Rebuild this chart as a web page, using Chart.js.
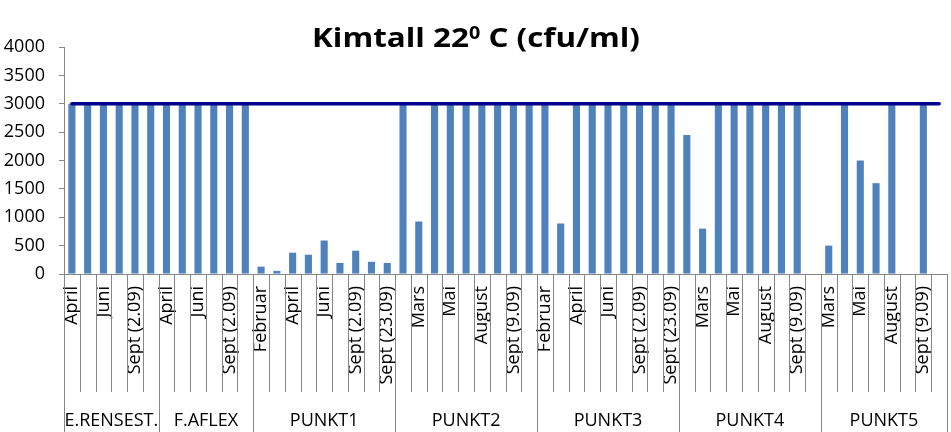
<!DOCTYPE html>
<html><head><meta charset="utf-8">
<script src="https://cdn.jsdelivr.net/npm/chart.js@4/dist/chart.umd.min.js"></script>
<style>html,body{margin:0;padding:0;background:#fff}</style>
</head><body>
<canvas id="c" width="951" height="432"></canvas>
<script>
// ---- data ----
const titleMain = 'Kimtall 22';
const titleSup = '0';
const titleRest = ' C (cfu/ml)';

const groups = ['E.RENSEST.', 'F.AFLEX', 'PUNKT1', 'PUNKT2', 'PUNKT3', 'PUNKT4', 'PUNKT5'];
const groupSizes = [6, 6, 9, 9, 9, 9, 8];

const months = [
  'April','Mai','Juni','August','Sept (2.09)','Sept (9.09)',
  'April','Mai','Juni','August','Sept (2.09)','Sept (9.09)',
  'Februar','Mars','April','Mai','Juni','August','Sept (2.09)','Sept (9.09)','Sept (23.09)',
  'Februar','Mars','April','Mai','Juni','August','Sept (2.09)','Sept (9.09)','Sept (23.09)',
  'Februar','Mars','April','Mai','Juni','August','Sept (2.09)','Sept (9.09)','Sept (23.09)',
  'Februar','Mars','April','Mai','Juni','August','Sept (2.09)','Sept (9.09)','Sept (23.09)',
  'Mars','April','Mai','Juni','August','Sept (2.09)','Sept (9.09)','Sept (23.09)'
];

const kimtall = [
  3000,3000,3000,3000,3000,3000,
  3000,3000,3000,3000,3000,3000,
  130,55,375,340,590,195,410,215,195,
  3000,925,3000,3000,3000,3000,3000,3000,3000,
  3000,890,3000,3000,3000,3000,3000,3000,3000,
  2450,800,3000,3000,3000,3000,3000,3000,null,
  500,3000,2000,1600,3000,null,3000,null
];

const grense = [
  3000,3000,3000,3000,3000,3000,
  3000,3000,3000,3000,3000,3000,
  3000,3000,3000,3000,3000,3000,3000,3000,3000,
  3000,3000,3000,3000,3000,3000,3000,3000,3000,
  3000,3000,3000,3000,3000,3000,3000,3000,3000,
  3000,3000,3000,3000,3000,3000,3000,3000,3000,
  3000,3000,3000,3000,3000,3000,3000,3000
];

const yMin = 0, yMax = 4000, yStep = 500;

// ---- drawing ----
const FONT = '"Open Sans", Lato, sans-serif';
const AXIS_GRAY = '#868686';

const decoPlugin = {
  id: 'deco',
  afterDraw(chart) {
    const ctx = chart.ctx;
    const xs = chart.scales.x;
    const top = xs.top;
    const monthBottom = top + 118;
    const bottom = chart.height;
    ctx.save();
    ctx.strokeStyle = AXIS_GRAY;
    ctx.lineWidth = 1;
    const groupStarts = new Set();
    let acc = 0;
    groupStarts.add(0);
    groupSizes.forEach(n => { acc += n; groupStarts.add(acc); });
    for (let i = 0; i <= months.length; i++) {
      const x = Math.round(xs.getPixelForValue(i - 0.5)) + 0.5;
      ctx.beginPath();
      ctx.moveTo(x, top);
      ctx.lineTo(x, groupStarts.has(i) ? bottom : monthBottom);
      ctx.stroke();
    }
    // group labels
    ctx.fillStyle = '#000';
    ctx.font = '18px ' + FONT;
    ctx.textAlign = 'center';
    ctx.textBaseline = 'alphabetic';
    let start = 0;
    groups.forEach((g, k) => {
      const end = start + groupSizes[k];
      const x0 = xs.getPixelForValue(start - 0.5);
      const x1 = xs.getPixelForValue(end - 0.5);
      ctx.fillText(g, (x0 + x1) / 2, 426);
      start = end;
    });
    // title with superscript
    const big = 'bold 27px ' + FONT;
    const small = 'bold 17px ' + FONT;
    ctx.font = big;
    const w1 = ctx.measureText(titleMain).width;
    const w3 = ctx.measureText(titleRest).width;
    ctx.font = small;
    const w2 = ctx.measureText(titleSup).width;
    const total = w1 + w2 + w3;
    const targetW = 328;
    const sx = targetW / total;
    const base = 47;
    ctx.translate(476 - targetW / 2, base);
    ctx.scale(sx, 1);
    let tx = 0;
    ctx.textAlign = 'left';
    ctx.font = big;
    ctx.fillText(titleMain, tx, 0);
    tx += w1;
    ctx.font = small;
    ctx.fillText(titleSup, tx, -8);
    tx += w2;
    ctx.font = big;
    ctx.fillText(titleRest, tx, 0);
    ctx.restore();
  }
};

new Chart(document.getElementById('c'), {
  type: 'bar',
  data: {
    labels: months,
    datasets: [
      {
        type: 'line',
        label: 'Grense',
        data: grense,
        borderColor: '#00008E',
        borderWidth: 3.5,
        borderCapStyle: 'round',
        pointRadius: 0,
        fill: false,
        order: 0
      },
      {
        type: 'bar',
        label: 'Kimtall',
        data: kimtall,
        backgroundColor: '#4F81BD',
        borderWidth: 0,
        barPercentage: 0.45,
        categoryPercentage: 1.0,
        order: 1
      }
    ]
  },
  options: {
    responsive: false,
    animation: false,
    devicePixelRatio: 1,
    layout: { padding: { left: 0, right: 4, top: 47, bottom: 0 } },
    plugins: { legend: { display: false }, tooltip: { enabled: false }, title: { display: false } },
    scales: {
      x: {
        offset: true,
        grid: { display: false, drawTicks: false },
        border: { display: true, color: AXIS_GRAY, width: 1 },
        ticks: {
          autoSkip: false,
          minRotation: 90,
          maxRotation: 90,
          padding: 12,
          color: '#000',
          font: { family: FONT, size: 18 },
          callback: function (v, i) { return i % 2 === 0 ? months[i] : ''; }
        },
        afterFit: s => { s.height = 158; s.paddingLeft = 0; s.paddingRight = 0; }
      },
      y: {
        min: yMin,
        max: yMax,
        grid: { drawOnChartArea: false, drawTicks: true, tickLength: 5, color: AXIS_GRAY },
        border: { display: true, color: AXIS_GRAY, width: 1 },
        ticks: {
          stepSize: yStep,
          padding: 14,
          color: '#000',
          font: { family: FONT, size: 18 },
          callback: v => String(v)
        },
        afterFit: s => { s.width = 64; s.paddingTop = 0; s.paddingBottom = 0; }
      }
    }
  },
  plugins: [decoPlugin]
});
</script>
</body></html>
